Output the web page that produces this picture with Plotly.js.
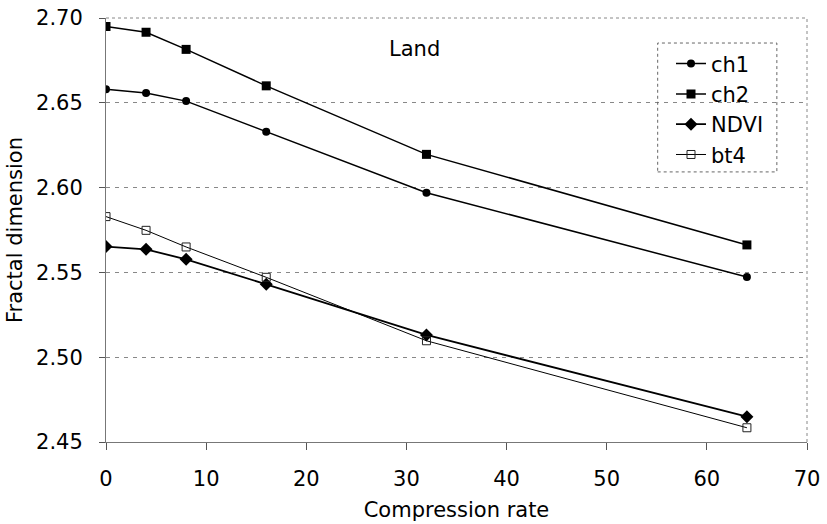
<!DOCTYPE html>
<html>
<head>
<meta charset="utf-8">
<script src="https://cdn.plot.ly/plotly-3.0.1.min.js"></script>
<style>html,body{margin:0;padding:0;background:#fff;}#chart{width:827px;height:524px;}</style>
</head>
<body>
<div id="chart"></div>
<script>
const compressionRate = [0, 4, 8, 16, 32, 64];
const ch1 = [2.658, 2.6558, 2.651, 2.633, 2.597, 2.5473];
const ch2 = [2.695, 2.6916, 2.6815, 2.660, 2.6196, 2.5662];
const ndvi = [2.5652, 2.5636, 2.5577, 2.543, 2.5131, 2.4649];
const bt4 = [2.5829, 2.5748, 2.565, 2.5471, 2.5097, 2.4584];
const yTicks = [2.45, 2.50, 2.55, 2.60, 2.65, 2.70];
const yTickText = ['2.45', '2.50', '2.55', '2.60', '2.65', '2.70'];
const xTicks = [0, 10, 20, 30, 40, 50, 60, 70];

const font = 'DejaVu Sans, Verdana, sans-serif';

const traces = [
  {x: compressionRate, y: ch1, name: 'ch1', mode: 'lines+markers',
   line: {color: '#000', width: 1.5}, marker: {symbol: 'circle', size: 8, color: '#000'}},
  {x: compressionRate, y: ch2, name: 'ch2', mode: 'lines+markers',
   line: {color: '#000', width: 1.5}, marker: {symbol: 'square', size: 9, color: '#000'}},
  {x: compressionRate, y: ndvi, name: 'NDVI', mode: 'lines+markers',
   line: {color: '#000', width: 1.8}, marker: {symbol: 'diamond', size: 10, color: '#000'}},
  {x: compressionRate, y: bt4, name: 'bt4', mode: 'lines+markers',
   line: {color: '#000', width: 1}, marker: {symbol: 'square-open', size: 8, color: '#222', line: {width: 1}}}
];

const layout = {
  width: 827, height: 524,
  margin: {l: 106, r: 20, t: 18, b: 82},
  paper_bgcolor: '#fff', plot_bgcolor: '#fff',
  font: {family: font, size: 21, color: '#000'},
  showlegend: true,
  legend: {x: 0.806, y: 0.94, xanchor: 'left', yanchor: 'top',
           bgcolor: 'rgba(0,0,0,0)', borderwidth: 0,
           font: {family: font, size: 21, color: '#000'}, tracegroupgap: 0},
  xaxis: {range: [0, 70], tickvals: xTicks, ticks: 'outside', ticklen: 7, tickcolor: '#555',
          showgrid: false, zeroline: false, showline: true, linecolor: '#777', linewidth: 1,
          tickfont: {family: font, size: 21}, ticklabelstandoff: 11,
          title: {text: 'Compression rate', font: {family: font, size: 21}, standoff: 12}},
  yaxis: {range: [2.45, 2.70], tickvals: yTicks, ticktext: yTickText, ticks: 'outside', ticklen: 6, tickcolor: '#555',
          showgrid: true, gridcolor: '#888', griddash: '4px,5px', gridwidth: 1, zeroline: false,
          showline: true, linecolor: '#777', linewidth: 1,
          tickfont: {family: font, size: 21}, ticklabelstandoff: 12,
          title: {text: 'Fractal dimension', font: {family: font, size: 21}, standoff: 7}},
  shapes: [
    {type: 'line', xref: 'paper', yref: 'paper', x0: 1, x1: 1, y0: 0, y1: 1,
     line: {color: '#888', width: 1, dash: 'dot'}},
    {type: 'line', xref: 'paper', yref: 'paper', x0: 0, x1: 1, y0: 1, y1: 1,
     line: {color: '#888', width: 1, dash: 'dot'}},
    {type: 'rect', xref: 'paper', yref: 'paper', x0: 0.787, x1: 0.957, y0: 0.637, y1: 0.941,
     line: {color: '#666', width: 1, dash: 'dot'}, fillcolor: 'rgba(0,0,0,0)'}
  ],
  annotations: [
    {text: 'Land', xref: 'paper', yref: 'paper', x: 0.44, y: 0.928, showarrow: false,
     xanchor: 'center', yanchor: 'middle', font: {family: font, size: 21, color: '#000'}}
  ]
};

Plotly.newPlot('chart', traces, layout, {displayModeBar: false, staticPlot: true});
</script>
</body>
</html>
